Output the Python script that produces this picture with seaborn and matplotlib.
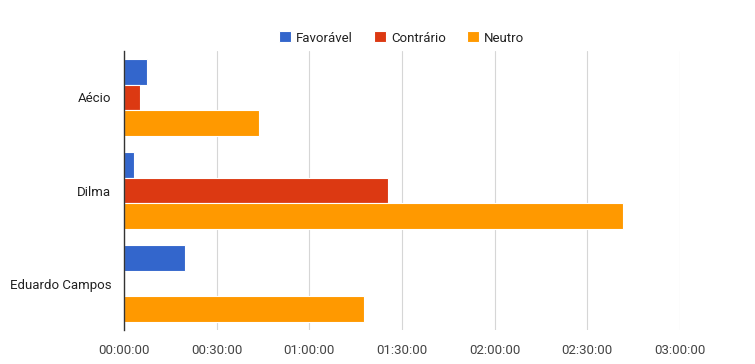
import pandas as pd
import seaborn as sns
import matplotlib.pyplot as plt
from matplotlib.ticker import FuncFormatter, MultipleLocator

# dados (segundos)
candidatos = ["Aécio", "Dilma", "Eduardo Campos"]
favoravel = [453, 200, 1193]
contrario = [317, 5131, 0]
neutro = [2613, 9690, 4664]
series = ["Favorável", "Contrário", "Neutro"]
cores = ["#3366CC", "#DC3912", "#FF9900"]

df = pd.DataFrame({
    "Candidato": candidatos * 3,
    "Tempo": favoravel + contrario + neutro,
    "Tipo": [s for s in series for _ in candidatos],
})

sns.set_style("white")
plt.rcParams["font.family"] = ["Roboto", "DejaVu Sans"]

fig = plt.figure(figsize=(7.55, 3.64), dpi=100)
ax = fig.add_axes([124 / 755, 1 - 330 / 364, (680 - 124) / 755, (330 - 51) / 364])

sns.barplot(data=df, y="Candidato", x="Tempo", hue="Tipo", palette=cores,
            saturation=1, orient="h", width=0.82, edgecolor="white",
            linewidth=0.8, legend=True, ax=ax)

# eixo x em HH:MM:SS
def hms(v, pos):
    v = int(round(v))
    return "%02d:%02d:%02d" % (v // 3600, (v % 3600) // 60, v % 60)

ax.set_xlim(0, 10800)
ax.xaxis.set_major_locator(MultipleLocator(1800))
ax.xaxis.set_major_formatter(FuncFormatter(hms))
ax.grid(axis="x", color="#d6d6d6", linewidth=0.8)
ax.set_axisbelow(True)
ax.set_xlabel("")
ax.set_ylabel("")
ax.tick_params(axis="x", length=0, pad=10, labelsize=9.5, labelcolor="#444444")
ax.tick_params(axis="y", length=0, pad=9, labelsize=9.5, labelcolor="#222222")
for s in ["top", "right", "bottom"]:
    ax.spines[s].set_visible(False)
ax.spines["left"].set_color("#333333")
ax.spines["left"].set_linewidth(1)

# legenda no topo
h, l = ax.get_legend_handles_labels()
ax.get_legend().remove()
fig.legend(h, l, loc="center", bbox_to_anchor=(0.532, 1 - 38 / 364), ncol=3,
           frameon=False, handlelength=0.9, handleheight=0.9, handletextpad=0.4,
           columnspacing=1.6, fontsize=9.5, labelcolor="#222222")

fig.savefig("out.png", dpi=100)
